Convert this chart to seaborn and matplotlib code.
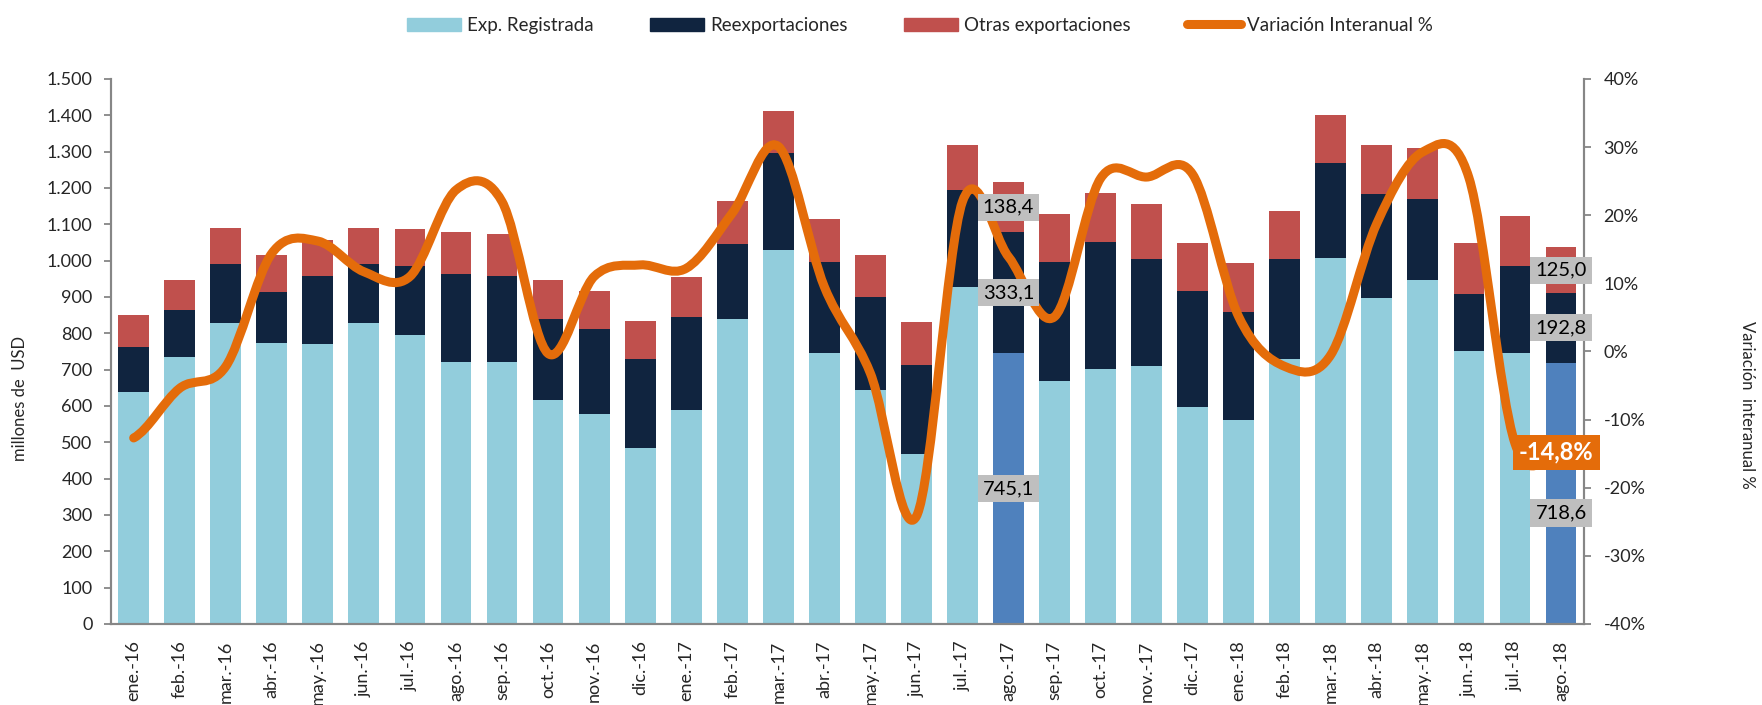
import numpy as np
import matplotlib
matplotlib.use("Agg")
import matplotlib.pyplot as plt
import seaborn as sns
from matplotlib.path import Path
from matplotlib.patches import PathPatch, Patch
from matplotlib.lines import Line2D
from matplotlib.ticker import FuncFormatter, MultipleLocator

# datos (millones de USD y %)
meses = ["ene.-16", "feb.-16", "mar.-16", "abr.-16", "may.-16", "jun.-16",
         "jul.-16", "ago.-16", "sep.-16", "oct.-16", "nov.-16", "dic.-16",
         "ene.-17", "feb.-17", "mar.-17", "abr.-17", "may.-17", "jun.-17",
         "jul.-17", "ago.-17", "sep.-17", "oct.-17", "nov.-17", "dic.-17",
         "ene.-18", "feb.-18", "mar.-18", "abr.-18", "may.-18", "jun.-18",
         "jul.-18", "ago.-18"]
exp_registrada = [639, 734, 827, 774, 771, 828, 796, 720, 721, 617, 578, 484,
                  590, 840, 1030, 745, 644, 468, 927, 745.1, 670, 702, 711, 597,
                  562, 729, 1006, 897, 946, 751, 745, 718.6]
reexportaciones = [123, 130, 165, 140, 187, 164, 188, 243, 238, 223, 235, 244,
                   255, 207, 265, 250, 256, 245, 268, 333.1, 326, 349, 294, 320,
                   297, 276, 263, 285, 224, 158, 241, 192.8]
otras_exportaciones = [87, 82, 97, 101, 100, 98, 102, 117, 113, 107, 104, 106,
                       110, 118, 116, 119, 115, 117, 123, 138.4, 132, 135, 151, 131,
                       134, 131, 132, 136, 139, 140, 137, 125.0]
variacion = [-12.7, -5.4, -2.2, 14.4, 16.2, 11.7, 11.0, 23.7, 22.0, -0.3, 11.0, 12.7,
             12.2, 20.3, 30.1, 9.5, -3.2, -24.2, 22.0, 13.9, 5.1, 25.4, 25.6, 26.0,
             5.1, -2.2, -0.5, 18.8, 29.3, 25.5, -13.5, -14.8]
destacados = ["ago.-17", "ago.-18"]

C_EXP = "#92CDDC"
C_EXP_DEST = "#4F81BD"
C_REEXP = "#10243F"
C_OTRAS = "#C0504D"
C_VAR = "#E46C0A"
C_GRIS = "#868686"
C_ETIQ = "#BFBFBF"

sns.set_style("white")
plt.rcParams["font.family"] = ["Lato", "DejaVu Sans"]
plt.rcParams["font.size"] = 13

fig = plt.figure(figsize=(17.62, 7.05), dpi=100)
ax = fig.add_axes([0.0628, 0.115, 0.8362, 0.773])

exp = np.array(exp_registrada)
nivel_reexp = exp + np.array(reexportaciones)
total = nivel_reexp + np.array(otras_exportaciones)

# barras apiladas: se dibujan los acumulados de mayor a menor
sns.barplot(x=meses, y=total, color=C_OTRAS, saturation=1, width=0.67,
            linewidth=0, errorbar=None, ax=ax)
sns.barplot(x=meses, y=nivel_reexp, color=C_REEXP, saturation=1, width=0.67,
            linewidth=0, errorbar=None, ax=ax)
colores_exp = [C_EXP_DEST if m in destacados else C_EXP for m in meses]
sns.barplot(x=meses, y=exp, hue=meses, palette=colores_exp, saturation=1,
            width=0.67, linewidth=0, errorbar=None, legend=False, ax=ax)

ax.set_xlim(-0.5, len(meses) - 0.5)
ax.set_ylim(0, 1500)
ax.yaxis.set_major_locator(MultipleLocator(100))
ax.yaxis.set_major_formatter(FuncFormatter(lambda v, p: f"{v:,.0f}".replace(",", ".")))
ax.set_xticks(range(len(meses)))
ax.set_xticklabels(meses, rotation=90)
ax.set_xticks(np.arange(-0.5, len(meses), 1), minor=True)
ax.tick_params(axis="x", which="major", length=0, pad=12, labelsize=13)
ax.tick_params(axis="x", which="minor", length=5, width=1.3, color=C_GRIS, direction="out")
ax.tick_params(axis="y", length=5, width=1.3, color=C_GRIS, direction="out", pad=8, labelsize=13)
ax.set_xlabel("")
ax.set_ylabel("")

# variacion interanual, linea suavizada como en Excel
ax2 = ax.twinx()
ax2.set_ylim(-40, 40)
ax2.yaxis.set_major_locator(MultipleLocator(10))
ax2.yaxis.set_major_formatter(FuncFormatter(lambda v, p: f"{v:.0f}%"))
ax2.tick_params(axis="y", length=5, width=1.3, color=C_GRIS, direction="out", pad=9, labelsize=13)

xs = np.arange(len(variacion), dtype=float)
ys = np.array(variacion, dtype=float)
yp = np.concatenate([[ys[0]], ys, [ys[-1]]])
verts = [(xs[0], ys[0])]
codes = [Path.MOVETO]
for i in range(len(xs) - 1):
    d0 = (yp[i + 2] - yp[i]) / 6
    d1 = (yp[i + 3] - yp[i + 1]) / 6
    verts += [(xs[i] + 1 / 3, ys[i] + d0), (xs[i + 1] - 1 / 3, ys[i + 1] - d1), (xs[i + 1], ys[i + 1])]
    codes += [Path.CURVE4] * 3
ax2.add_patch(PathPatch(Path(verts, codes), fill=False, edgecolor=C_VAR, lw=6.5,
                        capstyle="round", joinstyle="round", zorder=3))

for a in (ax, ax2):
    sns.despine(ax=a, top=True, right=False, left=False)
    for s in ("left", "right", "bottom"):
        a.spines[s].set_color(C_GRIS)
        a.spines[s].set_linewidth(1.5)

# etiquetas de datos en los meses destacados
caja = dict(boxstyle="square,pad=0.25", facecolor=C_ETIQ, edgecolor="none")
ajuste_y = {("ago.-18", 0): -54}
for m in destacados:
    i = meses.index(m)
    tramos = [(0, exp[i], exp_registrada[i]),
              (exp[i], nivel_reexp[i], reexportaciones[i]),
              (nivel_reexp[i], total[i], otras_exportaciones[i])]
    for k, (b, t, v) in enumerate(tramos):
        y = (b + t) / 2 + ajuste_y.get((m, k), 0)
        ax2.text(i, y, f"{v:.1f}".replace(".", ","), transform=ax.transData,
                 ha="center", va="center", fontsize=14.5, color="black",
                 bbox=caja, zorder=6)

ax2.text(len(variacion) - 1.1, variacion[-1], f"{variacion[-1]:.1f}%".replace(".", ","),
         ha="center", va="center", fontsize=17, fontweight="bold", color="white",
         bbox=dict(boxstyle="square,pad=0.25", facecolor=C_VAR, edgecolor="none"),
         zorder=6, clip_on=False)

fig.text(0.0114, 0.435, "millones de  USD", rotation=90, ha="center", va="center", fontsize=12)
fig.text(0.9915, 0.4255, "Variación  interanual %", rotation=270, ha="center", va="center", fontsize=12)

handles = [Patch(color=C_EXP), Patch(color=C_REEXP), Patch(color=C_OTRAS),
           Line2D([], [], color=C_VAR, lw=6.5, solid_capstyle="round")]
labels = ["Exp. Registrada", "Reexportaciones", "Otras exportaciones", "Variación Interanual %"]
fig.legend(handles, labels, loc="upper center", bbox_to_anchor=(0.522, 1.0), ncol=4,
           frameon=False, fontsize=13.5, handlelength=2.9, handleheight=0.7,
           handletextpad=0.3, columnspacing=3.0)

fig.savefig("out.png", dpi=100)
